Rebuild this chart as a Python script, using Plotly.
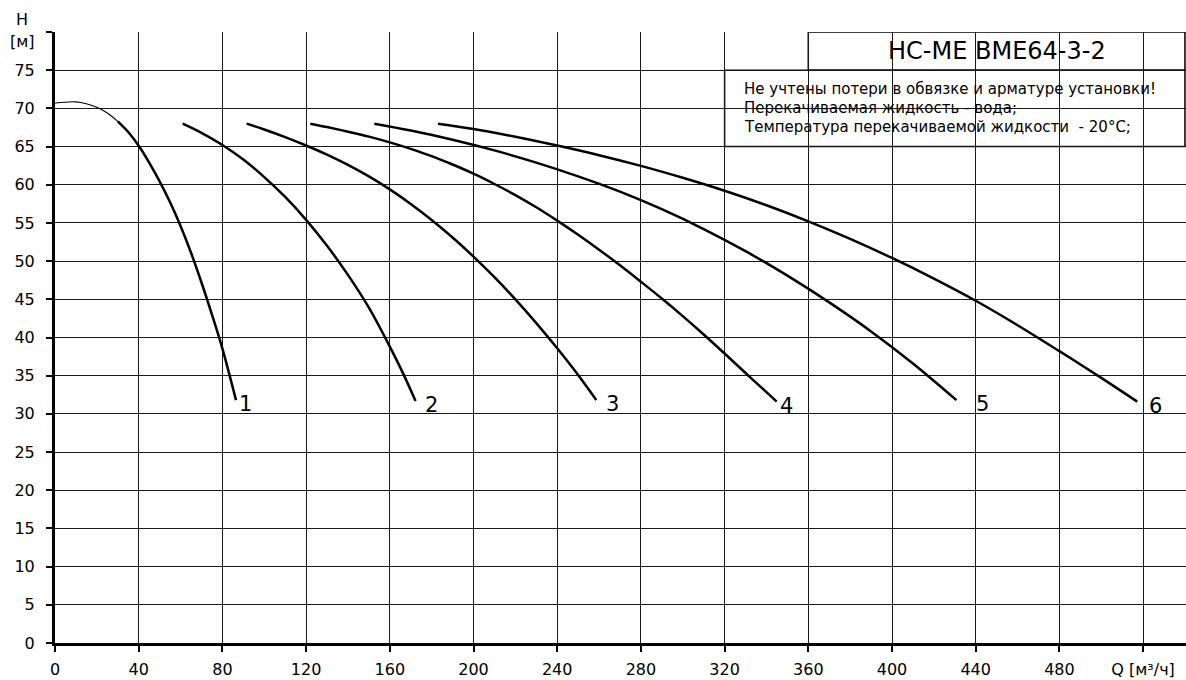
import plotly.graph_objects as go

# ---------------- data ----------------
q1 = [0, 5, 10, 15, 20, 25, 30, 35, 40, 45, 50, 55, 60, 65, 70, 75, 80, 86.5]
h1 = [70.7, 70.8, 70.85, 70.6, 70.15, 69.4, 68.3, 66.9, 65.1, 62.9, 60.45, 57.7, 54.6, 51.1, 47.2, 43.0, 38.55, 31.8]
q2 = [61, 70, 80, 90, 100, 110, 120, 130, 140, 150, 160, 166, 172.3]
h2 = [68, 66.8, 65.2, 63.3, 61.0, 58.4, 55.4, 52.0, 48.2, 43.9, 38.8, 35.5, 31.7]
q3 = [91.6, 100, 110, 120, 130, 140, 150, 160, 170, 180, 190, 200, 210, 220, 230, 240, 250, 258.7]
h3 = [68, 67.24, 66.24, 65.14, 63.94, 62.59, 61.09, 59.39, 57.49, 55.39, 53.09, 50.59, 47.89, 44.99, 41.89, 38.59, 35.09, 31.8]
q4 = [122, 130, 140, 150, 160, 170, 180, 190, 200, 210, 220, 230, 240, 250, 260, 270, 280, 290, 300, 310, 320, 330, 340, 344.9]
h4 = [68, 67.55, 66.95, 66.3, 65.55, 64.7, 63.75, 62.65, 61.45, 60.1, 58.65, 57.05, 55.3, 53.45, 51.5, 49.45, 47.3, 45.1, 42.8, 40.4, 37.9, 35.35, 32.85, 31.6]
q5 = [152.6, 170, 190, 210, 230, 250, 270, 290, 310, 330, 350, 370, 390, 410, 430.8]
h5 = [68, 67.1, 65.9, 64.5, 62.9, 61.1, 59.1, 56.8, 54.2, 51.3, 48.1, 44.6, 40.8, 36.6, 31.8]
q6 = [183, 200, 220, 240, 260, 280, 300, 320, 340, 360, 380, 400, 420, 440, 460, 480, 500, 517.2]
h6 = [68, 67.29, 66.29, 65.13, 63.87, 62.47, 60.91, 59.21, 57.31, 55.21, 52.91, 50.41, 47.71, 44.81, 41.61, 38.21, 34.71, 31.6]

curve_names = ["1", "2", "3", "4", "5", "6"]
x_ticks = list(range(0, 521, 40))
x_ticktext = [str(v) for v in x_ticks[:-1]] + ["Q [м³/ч]"]
y_ticks = list(range(0, 81, 5))
y_ticktext = [str(v) for v in y_ticks[:-1]] + [""]

title_text = "НС-МЕ ВМЕ64-3-2"
notes = [
    "Не учтены потери в обвязке и арматуре установки!",
    "Перекачиваемая жидкость - вода;",
    "Температура перекачиваемой жидкости  - 20°С;",
]

# ---------------- style ----------------
FONT = "DejaVu Sans"
label_xshift = [9, 16, 16, 10, 26, 18]
label_yshift = -4
W, H = 1186, 680
ML, MR, MT, MB = 55, 0, 32, 37
PW, PH = W - ML - MR, H - MT - MB

fig = go.Figure()

# curve 1: thin start, thick remainder
n_thin = 7
fig.add_trace(go.Scatter(x=q1[:n_thin], y=h1[:n_thin], mode="lines",
                         line=dict(color="black", width=1.1, shape="spline"),
                         showlegend=False, hoverinfo="skip"))
fig.add_trace(go.Scatter(x=q1[n_thin - 1:], y=h1[n_thin - 1:], mode="lines",
                         line=dict(color="black", width=2.5, shape="spline"),
                         showlegend=False, hoverinfo="skip"))

curves = [(q1, h1), (q2, h2), (q3, h3), (q4, h4), (q5, h5), (q6, h6)]
for i, (q, h) in enumerate(curves):
    if i > 0:
        fig.add_trace(go.Scatter(x=q, y=h, mode="lines",
                                 line=dict(color="black", width=2.5, shape="spline"),
                                 showlegend=False, hoverinfo="skip"))
    fig.add_annotation(x=q[-1], y=h[-1], text=curve_names[i], showarrow=False,
                       xanchor="center", yanchor="middle",
                       xshift=label_xshift[i], yshift=label_yshift,
                       font=dict(family=FONT, size=21, color="black"))

# info boxes
fig.add_shape(type="rect", xref="x", yref="y", x0=360, x1=540, y0=75, y1=80,
              fillcolor="white", line=dict(color="black", width=1.5), layer="below")
fig.add_shape(type="rect", xref="x", yref="y", x0=320, x1=540, y0=65, y1=75,
              fillcolor="white", line=dict(color="black", width=1.5), layer="below")

fig.add_annotation(x=450, y=77.55, text=title_text, showarrow=False,
                   xanchor="center", yanchor="middle",
                   font=dict(family=FONT, size=24, color="black"))
for line, yv in zip(notes, [72.55, 70.0, 67.5]):
    fig.add_annotation(x=328.2, y=yv, text=line, showarrow=False,
                       xanchor="left", yanchor="middle",
                       font=dict(family=FONT, size=15, color="black"))

# axis titles
fig.add_annotation(xref="paper", yref="paper", x=(22 - ML) / PW, y=(H - MB - 20) / PH,
                   xanchor="center", yanchor="middle",
                   text="H", showarrow=False, font=dict(family=FONT, size=16, color="black"))
fig.add_annotation(xref="paper", yref="paper", x=(22 - ML) / PW, y=(H - MB - 41.5) / PH,
                   xanchor="center", yanchor="middle",
                   text="[м]", showarrow=False, font=dict(family=FONT, size=16, color="black"))

fig.update_layout(
    width=W, height=H,
    margin=dict(l=ML, r=MR, t=MT, b=MB, pad=0, autoexpand=False),
    paper_bgcolor="white", plot_bgcolor="white",
    font=dict(family=FONT, size=16, color="black"),
    showlegend=False,
)
fig.update_xaxes(range=[0, 540.5], tickmode="array", tickvals=x_ticks, ticktext=x_ticktext,
                 showgrid=True, gridcolor="#1a1a1a", gridwidth=1, automargin=False,
                 showline=True, linecolor="black", linewidth=3,
                 ticks="outside", ticklen=6, tickwidth=2, tickcolor="black",
                 ticklabelstandoff=4, zeroline=False,
                 tickfont=dict(family=FONT, size=16, color="black"))
fig.update_yaxes(range=[0, 80], tickmode="array", tickvals=y_ticks, ticktext=y_ticktext,
                 showgrid=True, gridcolor="#1a1a1a", gridwidth=1, automargin=False,
                 showline=True, linecolor="black", linewidth=3,
                 ticks="outside", ticklen=6, tickwidth=2, tickcolor="black",
                 ticklabelstandoff=8, zeroline=False,
                 tickfont=dict(family=FONT, size=16, color="black"))

fig.write_html("out.html", config={"displayModeBar": False},
               post_script="document.body.style.margin='0';document.body.style.overflow='hidden';")
